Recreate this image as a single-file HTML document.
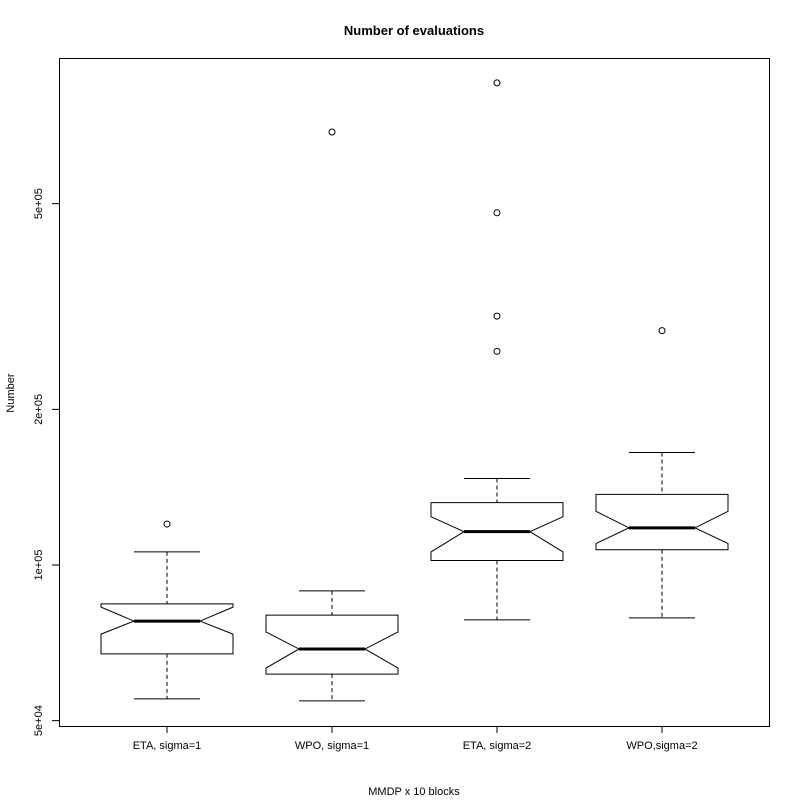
<!DOCTYPE html>
<html><head><meta charset="utf-8"><style>
html,body{margin:0;padding:0;background:#fff;}
svg text{font-family:"Liberation Sans","DejaVu Sans",sans-serif;fill:#000;}
</style></head><body>
<svg id="chart" width="800" height="800" viewBox="0 0 800 800" xmlns="http://www.w3.org/2000/svg">
<rect width="800" height="800" fill="#fff"/>
<text x="414" y="35" font-size="13" font-weight="bold" text-anchor="middle">Number of evaluations</text>
<rect x="59.5" y="58.5" width="710" height="668" fill="none" stroke="#000" stroke-width="1"/>
<text x="414" y="795" font-size="11" text-anchor="middle">MMDP x 10 blocks</text>
<text x="0" y="0" font-size="11" text-anchor="middle" transform="translate(14,393) rotate(-90)">Number</text>
<g id="marks"></g>
</svg>
<script>
const categories = ["ETA, sigma=1", "WPO, sigma=1", "ETA, sigma=2", "WPO,sigma=2"];
const whiskerLow = [55100, 54600, 78300, 79000];
const q1 = [67300, 61500, 102000, 107000];
const notchLow = [73500, 63200, 106000, 110000];
const medians = [77900, 68800, 116000, 118000];
const notchHigh = [82900, 74200, 124000, 127000];
const q3 = [84100, 80000, 132000, 137000];
const whiskerHigh = [106000, 89100, 147000, 165000];
const outliers = [[120000], [688000], [856000, 480000, 303000, 259000], [284000]];
const yTicks = [50000, 100000, 200000, 500000];
const yTickLabels = ["5e+04", "1e+05", "2e+05", "5e+05"];

const NS = "http://www.w3.org/2000/svg";
const g = document.getElementById('marks');
function yScale(v){ return 565 - 517 * Math.log10(v / 100000); }
function xScale(i){ return 167 + i * 165; }
function mk(tag, attrs, parent){
  const e = document.createElementNS(NS, tag);
  for (const k in attrs) e.setAttribute(k, attrs[k]);
  (parent || g).appendChild(e);
  return e;
}
// y axis
let ax = mk('line', {x1:59.5, x2:59.5, y1:yScale(yTicks[0]), y2:yScale(yTicks[yTicks.length-1]), stroke:'#000'});


yTicks.forEach((t, i) => {
  const y = yScale(t);
  const tk = mk('line', {x1:52, x2:59.5, y1:y, y2:y, stroke:'#000'});
  
  
  const tx = mk('text', {x:0, y:0, 'font-size':11, 'text-anchor':'middle', transform:'translate(42,' + y + ') rotate(-90)'});
  
  
  tx.textContent = yTickLabels[i];
});
// x axis ticks
let xa = mk('line', {x1:xScale(0), x2:xScale(categories.length-1), y1:726.5, y2:726.5, stroke:'#000'});


categories.forEach((c, i) => {
  const x = xScale(i);
  const tk = mk('line', {x1:x, x2:x, y1:726.5, y2:733, stroke:'#000'});
  
  
  const tx = mk('text', {x:x, y:749, 'font-size':11, 'text-anchor':'middle'});
  
  
  tx.textContent = c;
});
// boxes
categories.forEach((c, i) => {
  const cx = xScale(i), hw = 66, nw = 33, cw = 33;
  const grp = mk('g', {});
  
  
  const yq1 = yScale(q1[i]), yq3 = yScale(q3[i]), ym = yScale(medians[i]);
  const ynl = yScale(notchLow[i]), ynh = yScale(notchHigh[i]);
  const ywl = yScale(whiskerLow[i]), ywh = yScale(whiskerHigh[i]);
  const w1 = mk('line', {x1:cx, x2:cx, y1:ywh, y2:yq3, stroke:'#000', 'stroke-dasharray':'4,3'}, grp);
  
  
  const w2 = mk('line', {x1:cx, x2:cx, y1:yq1, y2:ywl, stroke:'#000', 'stroke-dasharray':'4,3'}, grp);
  
  
  const c1 = mk('line', {x1:cx-cw, x2:cx+cw, y1:ywh, y2:ywh, stroke:'#000'}, grp);
  
  
  const c2 = mk('line', {x1:cx-cw, x2:cx+cw, y1:ywl, y2:ywl, stroke:'#000'}, grp);
  
  
  const pts = [[cx-hw,yq1],[cx-hw,ynl],[cx-nw,ym],[cx-hw,ynh],[cx-hw,yq3],[cx+hw,yq3],[cx+hw,ynh],[cx+nw,ym],[cx+hw,ynl],[cx+hw,yq1]];
  const bx = mk('polygon', {points: pts.map(p => p.join(',')).join(' '), fill:'#fff', stroke:'#000'}, grp);
  
  
  const md = mk('line', {x1:cx-nw, x2:cx+nw, y1:ym, y2:ym, stroke:'#000', 'stroke-width':3}, grp);
  
  
  outliers[i].forEach(v => {
    const o = mk('circle', {cx:cx, cy:yScale(v), r:3, fill:'none', stroke:'#000'}, grp);
    
    
  });
});
</script>
</body></html>
